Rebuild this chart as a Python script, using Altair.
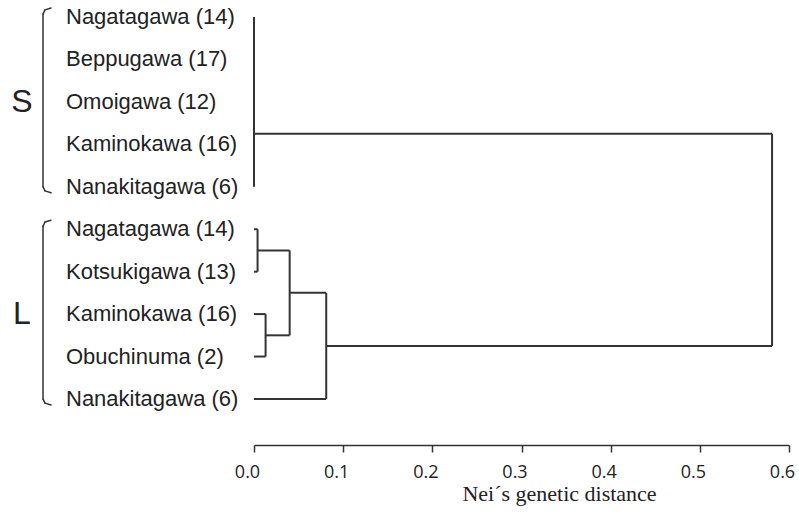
import altair as alt
import pandas as pd

# ---- data ----
leaf_labels = ["Nagatagawa (14)", "Beppugawa (17)", "Omoigawa (12)", "Kaminokawa (16)",
               "Nanakitagawa (6)", "Nagatagawa (14)", "Kotsukigawa (13)", "Kaminokawa (16)",
               "Obuchinuma (2)", "Nanakitagawa (6)"]
leaf_groups = ["S", "S", "S", "S", "S", "L", "L", "L", "L", "L"]

# linkage: (child a, child b, Nei's distance); new node ids start at len(leaf_labels)
merge_a = [0, 2, 10, 12, 5, 7, 14, 16, 13]
merge_b = [1, 3, 11, 4, 6, 8, 15, 9, 17]
merge_dist = [0.0, 0.0, 0.0, 0.0, 0.004, 0.013, 0.040, 0.081, 0.581]

tick_values = [0.0, 0.1, 0.2, 0.3, 0.4, 0.5, 0.6]

# ---- build dendrogram segments from the linkage ----
n = len(leaf_labels)
ypos = {i: float(i) for i in range(n)}
height = {i: 0.0 for i in range(n)}
segs = []
for k, (a, b, d) in enumerate(zip(merge_a, merge_b, merge_dist)):
    node = n + k
    for c in (a, b):
        segs.append(dict(x=height[c], x2=d, y=ypos[c], y2=ypos[c]))
    segs.append(dict(x=d, x2=d, y=ypos[a], y2=ypos[b]))
    ypos[node] = (ypos[a] + ypos[b]) / 2
    height[node] = d
segs_df = pd.DataFrame(segs)

leaves_df = pd.DataFrame({"row": list(range(n)), "label": leaf_labels, "group": leaf_groups})
grp_df = leaves_df.groupby("group", sort=False).agg(row=("row", "mean"),
                                                    lo=("row", "min"),
                                                    hi=("row", "max")).reset_index()

LINE = "#333333"
TEXT = "#222222"
BX = -211        # bracket x (pixels left of plot origin)
ROW_PX = 42.44   # pixels per row with the y scale below
px = 1.0 / ROW_PX

grp_df["top"] = grp_df["lo"] - 0.21
grp_df["bot"] = grp_df["hi"] + 0.14
grp_df["vtop"] = grp_df["top"] + 6 * px
grp_df["vbot"] = grp_df["bot"] - 6 * px

hooks = []
for _, g in grp_df.iterrows():
    for e, s in ((g["top"], 1), (g["bot"], -1)):
        hooks.append(dict(ya=e + s * 6 * px, ya2=e + s * 1.8 * px, yb=e + s * 1.8 * px, yb2=e))
hooks_df = pd.DataFrame(hooks)

xscale = alt.Scale(domain=[0, 0.6], nice=False, zero=False)
yscale = alt.Scale(domain=[-0.4, 10.084], nice=False, zero=False, reverse=True)

xaxis = alt.Axis(values=tick_values, format=".1f", grid=False, labelFlush=False,
                 tickSize=7, tickWidth=1.5, tickColor=LINE, domainColor=LINE, domainWidth=1.5,
                 labelFont="Open Sans", labelFontSize=18, labelColor=TEXT, labelPadding=11,
                 labelOffset=-7,
                 title="Nei´s genetic distance", titleFont="Liberation Serif",
                 titleFontSize=22, titleFontWeight="normal", titleColor=TEXT,
                 titleX=305, titleY=48, titleBaseline="middle", titleAlign="center")

tree = alt.Chart(segs_df).mark_rule(color=LINE, strokeWidth=2).encode(
    x=alt.X("x:Q", scale=xscale, axis=xaxis),
    x2="x2:Q",
    y=alt.Y("y:Q", scale=yscale, axis=None),
    y2="y2:Q",
)

labels = alt.Chart(leaves_df).mark_text(
    align="left", baseline="middle", font="Liberation Sans", fontSize=22, color=TEXT
).encode(
    x=alt.value(-188),
    y=alt.Y("row:Q", scale=yscale, axis=None),
    text="label:N",
)

group_letters = alt.Chart(grp_df).mark_text(
    align="center", baseline="middle", font="Liberation Sans", fontSize=32, color=TEXT
).encode(
    x=alt.value(-232),
    y=alt.Y("row:Q", scale=yscale, axis=None),
    text="group:N",
)

bracket_v = alt.Chart(grp_df).mark_rule(color=LINE, strokeWidth=1.5, strokeCap="round").encode(
    x=alt.value(BX),
    y=alt.Y("vtop:Q", scale=yscale, axis=None),
    y2="vbot:Q",
)
hook_a = alt.Chart(hooks_df).mark_rule(color=LINE, strokeWidth=1.5, strokeCap="round").encode(
    x=alt.value(BX), x2=alt.value(BX + 2),
    y=alt.Y("ya:Q", scale=yscale, axis=None),
    y2="ya2:Q",
)
hook_b = alt.Chart(hooks_df).mark_rule(color=LINE, strokeWidth=1.5, strokeCap="round").encode(
    x=alt.value(BX + 2), x2=alt.value(BX + 8),
    y=alt.Y("yb:Q", scale=yscale, axis=None),
    y2="yb2:Q",
)

chart = alt.layer(tree, labels, group_letters, bracket_v, hook_a, hook_b).properties(
    width=535, height=445,
    autosize=alt.AutoSizeParams(type="none"),
    padding={"left": 254, "top": 0, "right": 10, "bottom": 74},
    background="white",
).configure_view(stroke=None)

chart.save("out.html", embed_options={"renderer": "svg", "actions": False})
